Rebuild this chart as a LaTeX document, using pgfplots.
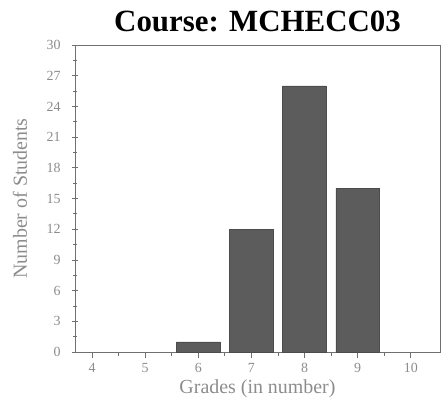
\documentclass[border=0pt]{standalone}
\usepackage{fontspec}
\setmainfont{Liberation Serif}
\usepackage{pgfplots}
\pgfplotsset{compat=1.18}

\definecolor{barfill}{HTML}{5C5C5C}
\definecolor{faint}{HTML}{8C8C8C}
\definecolor{axisgray}{HTML}{707070}

\begin{document}
\begin{tikzpicture}[x=1bp,y=1bp]
\begin{axis}[
    scale only axis,
    width=365bp, height=307bp,
    xmin=3.68, xmax=10.55,
    ymin=0, ymax=30,
    xtick={4,5,6,7,8,9,10},
    ytick={0,3,6,9,12,15,18,21,24,27,30},
    minor x tick num=1,
    minor y tick num=1,
    xtick pos=bottom, ytick pos=left,
    tick align=center,
    major tick length=6bp,
    minor tick length=4bp,
    axis line style={axisgray, line width=0.8bp},
    every tick/.style={axisgray, line width=0.8bp},
    tick label style={faint, font=\fontsize{14}{14}\selectfont},
    yticklabel style={anchor=east, xshift=-8bp},
    xticklabel style={anchor=north, yshift=-2bp},
    /pgf/number format/assume math mode=true,
    xlabel={Grades (in number)},
    ylabel={Number of Students},
    label style={faint, font=\fontsize{20}{20}\selectfont},
    xlabel style={at={(axis description cs:0.5,-0.118)}, anchor=center},
    ylabel style={at={(axis description cs:-0.151,0.5)}, anchor=center},
    title={\textbf{Course: MCHECC03}},
    title style={black, font=\fontsize{31}{31}\selectfont,
        at={(axis description cs:0.5,1)}, anchor=base, yshift=8bp},
    ybar, bar width=0.82,
]
\addplot[draw=black!70, fill=barfill, line width=0.5bp] coordinates {
    (6,1) (7,12) (8,26) (9,16)
};
\end{axis}
\path[use as bounding box] ([shift={(-75bp,-53bp)}]current axis.south west)
    rectangle ([shift={(8bp,45bp)}]current axis.north east);
\end{tikzpicture}
\end{document}
